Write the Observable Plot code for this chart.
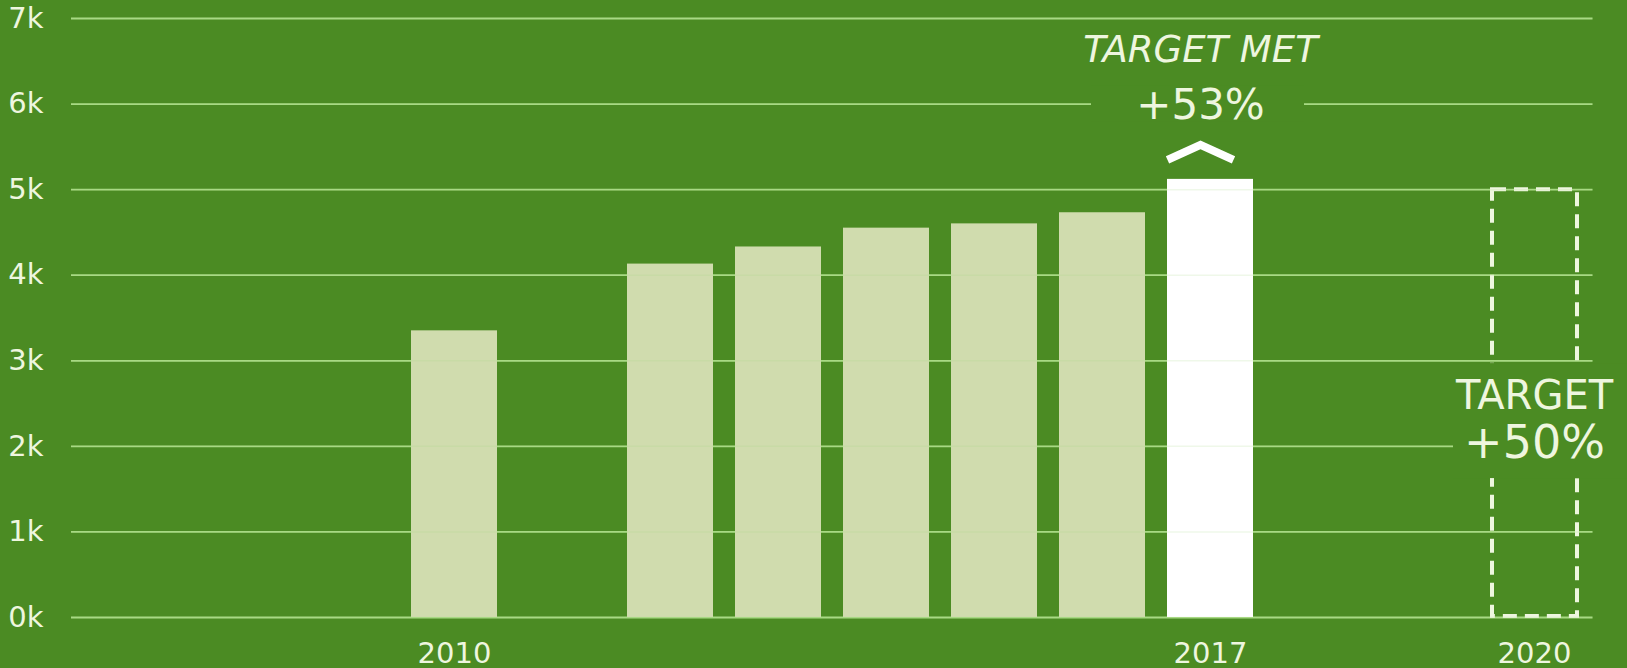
<!DOCTYPE html>
<html>
<head>
<meta charset="utf-8">
<script src="https://cdn.jsdelivr.net/npm/d3@7"></script>
<script src="https://cdn.jsdelivr.net/npm/@observablehq/plot@0.6"></script>
<style>
  html, body { margin: 0; padding: 0; background: #4b8b23; overflow: hidden; }
  #chart svg { display: block; }
</style>
</head>
<body>
<div id="chart"></div>
<script>
// ---- data ----
const yearDomain = ["2007","2008","2009","2010","2011","2012","2013","2014","2015","2016","2017","2018","2019","2020"];
const barYears = ["2010","2012","2013","2014","2015","2016","2017"];
const barValues = [3350, 4130, 4330, 4550, 4600, 4730, 5120];
const highlightYear = "2017";
const targetYear = "2020";
const targetValue = 5000;
const yTicks = [0, 1000, 2000, 3000, 4000, 5000, 6000, 7000];
const xTickLabels = ["2010", "2017", "2020"];
const metLabels = ["TARGET MET", "+53%"];
const targetLabels = ["TARGET", "+50%"];

// ---- styling ----
const BG = "#4b8b23";
const GRID = "#a9da84";
const BAR = "#d0dcae";
const TEXT = "#eef6df";
const FONT = "'DejaVu Sans', 'Open Sans', sans-serif";

const rows = barYears.map((year, i) => ({year, value: barValues[i]}));
const highlight = rows.find(d => d.year === highlightYear);
const target = [{year: targetYear, value: targetValue}];

const chevron = {
  draw(context, size) {
    const r = Math.sqrt(size / Math.PI);
    const h = r * 0.45;
    context.moveTo(-r, h / 2);
    context.lineTo(0, -h / 2);
    context.lineTo(r, h / 2);
  }
};

const chart = Plot.plot({
  width: 1627,
  height: 668,
  marginLeft: 71,
  marginRight: 34.5,
  marginTop: 18,
  marginBottom: 51,
  style: {background: BG, color: TEXT, fontFamily: FONT, overflow: "visible"},
  x: {type: "band", domain: yearDomain, paddingInner: 0.2, paddingOuter: 0.1, label: null},
  y: {domain: [0, 7000], label: null},
  marks: [
    Plot.ruleY(yTicks, {stroke: GRID, strokeWidth: 1.8}),
    Plot.barY(rows.filter(d => d.year !== highlightYear), {x: "year", y: "value", fill: BAR}),
    Plot.barY([highlight], {x: "year", y: "value", fill: "#ffffff"}),
    Plot.barY(target, {x: "year", y: "value", fill: "none", stroke: TEXT, strokeWidth: 4,
      strokeDasharray: "14,8", insetTop: 0, insetBottom: 1, insetLeft: 1, insetRight: 0}),
    Plot.ruleY(yTicks, {stroke: GRID, strokeWidth: 1.5, strokeOpacity: 0.18}),
    // background patches behind the annotations
    Plot.barY(target, {x: "year", y1: d => d.value / 2, y2: d => d.value / 2, fill: BG,
      insetTop: -40, insetBottom: -75, insetLeft: -38, insetRight: -60}),
    Plot.barY([highlight], {x: "year", y1: () => yTicks[6], y2: () => yTicks[6], fill: BG,
      insetTop: -18, insetBottom: -18, insetLeft: -76, insetRight: -51}),
    // annotations for 2017
    Plot.text([highlight], {x: "year", y: "value", text: () => metLabels[0], dx: -10, dy: -129,
      fontSize: 37, fontStyle: "italic", fill: TEXT, fontFamily: FONT}),
    Plot.text([highlight], {x: "year", y: "value", text: () => metLabels[1], dx: -10, dy: -74,
      fontSize: 42, fill: TEXT, fontFamily: FONT}),
    Plot.dot([highlight], {x: "year", y: "value", dx: -10, dy: -27, r: 33, symbol: chevron,
      fill: "none", stroke: "#ffffff", strokeWidth: 8, strokeLinejoin: "miter"}),
    // annotations for 2020 target
    Plot.text(target, {x: "year", y: d => d.value / 2, text: () => targetLabels[0], dy: -7,
      fontSize: 40, fill: TEXT, fontFamily: FONT}),
    Plot.text(target, {x: "year", y: d => d.value / 2, text: () => targetLabels[1], dy: 40,
      fontSize: 46, fill: TEXT, fontFamily: FONT}),
    Plot.axisY({ticks: yTicks, tickFormat: d => `${d / 1000}k`, tickSize: 0, tickPadding: 28,
      fontSize: 29, fill: TEXT, label: null}),
    Plot.axisX({ticks: xTickLabels, tickSize: 0, tickPadding: 25, fontSize: 29, fill: TEXT, label: null})
  ]
});
document.getElementById("chart").append(chart);
</script>
</body>
</html>
